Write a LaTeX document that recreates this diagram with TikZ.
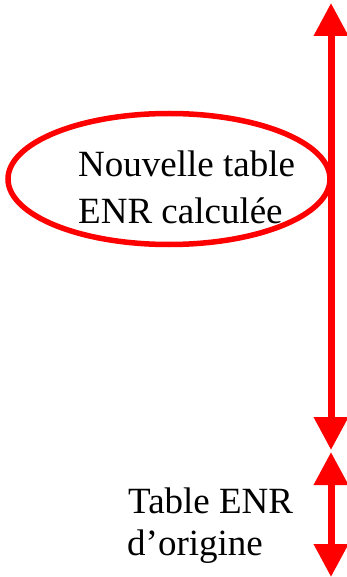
\documentclass[tikz,border=0pt]{standalone}
\usepackage{fontspec}
\setmainfont{Liberation Serif}
\usetikzlibrary{arrows.meta,shapes.geometric}
\definecolor{vred}{RGB}{255,0,0}
\tikzset{
  bigarrow/.style={draw=vred, line width=7pt,
    {Triangle[width=33pt,length=33pt]}-{Triangle[width=33pt,length=33pt]}, fill=vred},
  ring/.style={ellipse, draw=vred, line width=5.5pt, minimum width=322pt,
    minimum height=131pt, inner sep=0pt},
  lbl/.style={anchor=base west, inner sep=0pt, font=\fontsize{37}{44}\selectfont}
}
\begin{document}
\begin{tikzpicture}[x=1pt,y=-1pt]
  \useasboundingbox (0,0) rectangle (347,577);
  % calculated table, circled
  \node[ring] (ell) at (169,179) {};
  \node[lbl] (new1) at (78,177) {Nouvelle table};
  \node[lbl] (new2) at (78,223) {ENR calculée};
  % original table
  \node[lbl] (orig1) at (128,513) {Table ENR};
  \node[lbl] (orig2) at (127,555) {d’origine};
  % vertical extents
  \coordinate (a1) at (331,3);
  \coordinate (a2) at (331,450);
  \coordinate (b1) at (331,452);
  \coordinate (b2) at (331,577);
  \draw[bigarrow] (a2) -- (a1);
  \draw[bigarrow] (b1) -- (b2);
\end{tikzpicture}
\end{document}
